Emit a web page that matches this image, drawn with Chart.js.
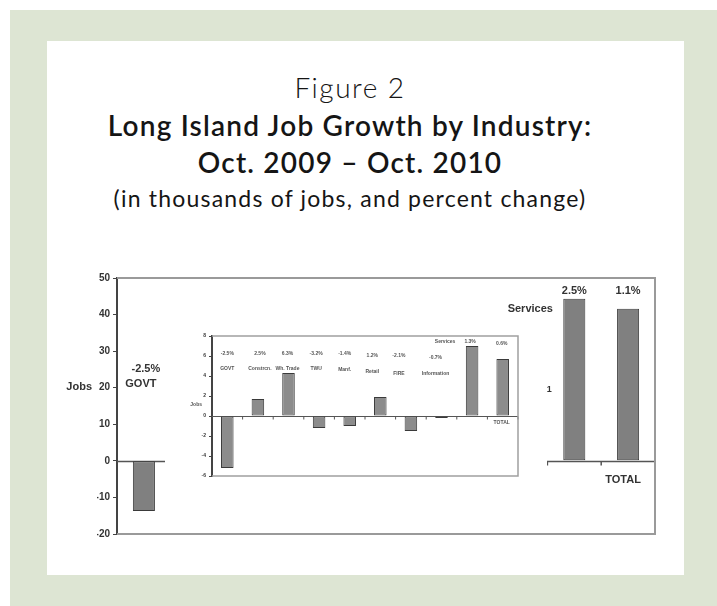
<!DOCTYPE html>
<html>
<head>
<meta charset="utf-8">
<script src="https://cdn.jsdelivr.net/npm/chart.js@4.4.1/dist/chart.umd.min.js"></script>
<style>
  body { margin: 0; width: 717px; height: 606px; position: relative; overflow: hidden; background: #fff; }
  .fondo { position: absolute; left: 10px; top: 10px; width: 707px; height: 596px; background: #dde5d3; }
  .panel { position: absolute; left: 47px; top: 41px; width: 637px; height: 534px; background: #fff; }
  .t { position: absolute; left: 0; width: 700px; text-align: center; color: #151515; white-space: nowrap; line-height: 1; font-family: Lato, "Open Sans", sans-serif; letter-spacing: 1.2px; }
  .t1 { top: 73px; font-size: 28px; font-weight: 300; letter-spacing: 1.5px; }
  .t2 { top: 111px; font-size: 28px; font-weight: 600; }
  .t3 { top: 148px; font-size: 28px; font-weight: 600; }
  .t4 { top: 187px; font-size: 23px; font-weight: 400; }
  #grafico { position: absolute; left: 47px; top: 250px; }
  #recuadro { position: absolute; left: 165px; top: 326px; }
</style>
</head>
<body>
<div class="fondo"></div>
<div class="panel"></div>
<div class="t t1">Figure 2</div>
<div class="t t2">Long Island Job Growth by Industry:</div>
<div class="t t3">Oct. 2009 – Oct. 2010</div>
<div class="t t4">(in thousands of jobs, and percent change)</div>
<canvas id="grafico" width="637" height="310"></canvas>
<canvas id="recuadro" width="382" height="192"></canvas>
<script>
const industrias = ["GOVT", "Constrcn.", "Wh. Trade", "TWU", "Manf.", "Retail", "FIRE", "Information", "Services", "TOTAL"]

// grafico grande (miles de empleos), solo se ven GOVT, Services y TOTAL
const empleosLI = [-13.7, null, null, null, null, null, null, null, 44.3, 41.6]
const cambioLI = ["-2.5%", "", "", "", "", "", "", "", "2.5%", "1.1%"]
const ticksLI = [50, 40, 30, 20, 10, 0, -10, -20]

// recuadro del medio
const empleosRecuadro = [-5.2, 1.7, 4.3, -1.2, -1.0, 1.9, -1.5, -0.2, 7.0, 5.7]
const cambioRecuadro = ["-2.5%", "2.5%", "6.3%", "-3.2%", "-1.4%", "1.2%", "-2.1%", "-0.7%", "1.3%", "0.6%"]
const ticksRecuadro = [8, 6, 4, 2, 0, -2, -4, -6]

const fuente = '"Liberation Sans", Arial, sans-serif'

// linea del cero con marcas entre categorias
function lineaCero(chart, color, ancho, largo) {
    const {ctx, chartArea, scales: {y}} = chart
    const y0 = Math.round(y.getPixelForValue(0)) + 0.5
    const paso = (chartArea.right - chartArea.left) / industrias.length
    ctx.save()
    ctx.strokeStyle = color
    ctx.lineWidth = ancho
    ctx.beginPath()
    ctx.moveTo(chartArea.left, y0)
    ctx.lineTo(chartArea.right, y0)
    for (let i = 1; i <= industrias.length; i++) {
        const xi = chartArea.left + paso * i
        ctx.moveTo(xi, y0)
        ctx.lineTo(xi, y0 + largo)
    }
    ctx.stroke()
    ctx.restore()
}

// marco arriba, derecha y abajo
function marco(chart, color, ancho) {
    const {ctx, chartArea} = chart
    ctx.save()
    ctx.strokeStyle = color
    ctx.lineWidth = ancho
    ctx.beginPath()
    ctx.moveTo(chartArea.left, chartArea.top)
    ctx.lineTo(chartArea.right, chartArea.top)
    ctx.lineTo(chartArea.right, chartArea.bottom)
    ctx.lineTo(chartArea.left, chartArea.bottom)
    ctx.stroke()
    ctx.restore()
}

const extrasLI = {
    id: "extrasLI",
    beforeDatasetsDraw(chart) {
        lineaCero(chart, "#555", 1.5, 4)
    },
    afterDatasetsDraw(chart) {
        const {ctx, chartArea, scales: {x, y}} = chart
        marco(chart, "#9a9a9a", 2)
        ctx.save()
        ctx.fillStyle = "#333"
        ctx.font = "bold 11px " + fuente
        ctx.textAlign = "center"
        ctx.textBaseline = "middle"
        ctx.fillText(cambioLI[0], x.getPixelForValue(0) + 2, y.getPixelForValue(25))
        ctx.fillText(industrias[0], x.getPixelForValue(0) - 3, y.getPixelForValue(21))
        ctx.fillText(cambioLI[8], x.getPixelForValue(8), y.getPixelForValue(46.5))
        ctx.fillText(cambioLI[9], x.getPixelForValue(9), y.getPixelForValue(46.5))
        ctx.fillText(industrias[8], x.getPixelForValue(8) - 44, y.getPixelForValue(41.5))
        ctx.fillText(industrias[9], x.getPixelForValue(9) - 5, y.getPixelForValue(-5.2))
        ctx.font = "bold 9px " + fuente
        ctx.fillText("1", x.getPixelForValue(8) - 25, y.getPixelForValue(19.4))
        ctx.font = "bold 11px " + fuente
        ctx.textAlign = "right"
        ctx.fillText("Jobs", chartArea.left - 25, y.getPixelForValue(20.2))
        ctx.restore()
    }
}

// posiciones de los textos del recuadro
const dxRecuadro = [0, 2, -1, -3, -5, -8, -12, -6, -2, -1]
const filaPct = [6.2, 6.2, 6.2, 6.2, 6.2, 6.0, 6.0, 5.8, 7.4, 7.2]
const filaNombre = [4.7, 4.7, 4.7, 4.7, 4.6, 4.4, 4.2, 4.2]

const extrasRecuadro = {
    id: "extrasRecuadro",
    beforeDraw(chart) {
        const {ctx, width, height} = chart
        ctx.save()
        ctx.fillStyle = "#fff"
        ctx.fillRect(0, 0, width, height)
        ctx.restore()
    },
    beforeDatasetsDraw(chart) {
        lineaCero(chart, "#555", 1, 3)
    },
    afterDatasetsDraw(chart) {
        const {ctx, chartArea, scales: {x, y}} = chart
        marco(chart, "#a0a0a0", 1.5)
        ctx.save()
        ctx.fillStyle = "#555"
        ctx.font = "bold 5px " + fuente
        ctx.textAlign = "center"
        ctx.textBaseline = "middle"
        industrias.forEach((nombre, i) => {
            const xi = x.getPixelForValue(i) + dxRecuadro[i]
            ctx.fillText(cambioRecuadro[i], xi, y.getPixelForValue(filaPct[i]))
            if (i < 8) ctx.fillText(nombre, xi, y.getPixelForValue(filaNombre[i]))
        })
        ctx.fillText(industrias[8], x.getPixelForValue(8) - 27, y.getPixelForValue(7.4))
        ctx.fillText(industrias[9], x.getPixelForValue(9) - 1, y.getPixelForValue(-0.7))
        ctx.textAlign = "right"
        ctx.fillText("Jobs", chartArea.left - 10, y.getPixelForValue(1.1))
        ctx.restore()
    }
}

function configuracion(valores, ticks, relleno, ejeAncho, padding, fuenteTicks, tickLargo, extras) {
    return {
        type: "bar",
        data: {
            labels: industrias,
            datasets: [{
                data: valores,
                backgroundColor: relleno,
                borderColor: "#3a3a3a",
                borderWidth: 1,
                borderSkipped: false,
                categoryPercentage: 1,
                barPercentage: 0.41
            }]
        },
        options: {
            responsive: false,
            animation: false,
            layout: { padding: padding },
            plugins: { legend: { display: false }, tooltip: { enabled: false } },
            scales: {
                x: { display: false },
                y: {
                    min: ticks[ticks.length - 1],
                    max: ticks[0],
                    afterBuildTicks: (eje) => { eje.ticks = ticks.map((v) => ({ value: v })) },
                    afterFit: (eje) => { eje.width = ejeAncho },
                    border: { color: "#444", width: 2 },
                    grid: { drawOnChartArea: false, drawTicks: true, tickLength: tickLargo, color: "#444" },
                    ticks: { color: "#333", font: fuenteTicks, padding: 3 }
                }
            }
        },
        plugins: [extras]
    }
}

new Chart(document.getElementById("grafico"),
    configuracion(empleosLI, ticksLI, "#808080", 20,
        { left: 50, right: 29, top: 28, bottom: 26 },
        { family: fuente, size: 10, weight: "bold" }, 4, extrasLI))

new Chart(document.getElementById("recuadro"),
    configuracion(empleosRecuadro, ticksRecuadro, "#8c8c8c", 12,
        { left: 35, right: 29, top: 10, bottom: 42 },
        { family: fuente, size: 5, weight: "bold" }, 3, extrasRecuadro))
</script>
</body>
</html>
